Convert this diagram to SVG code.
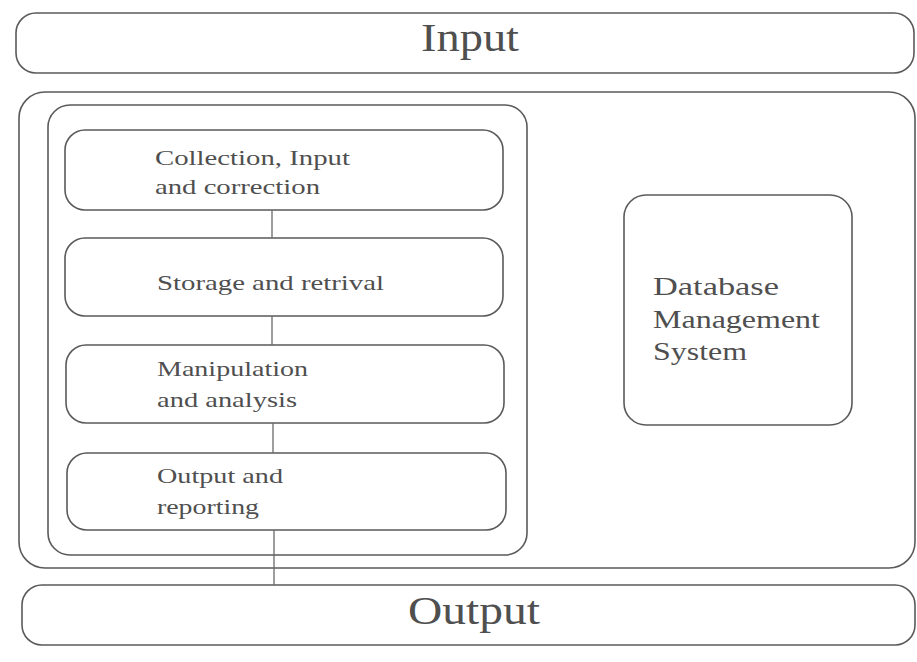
<svg xmlns="http://www.w3.org/2000/svg" width="917" height="662" viewBox="0 0 917 662">
  <style>
    .box { fill: none; stroke: #5a5a5a; stroke-width: 1.6; }
    .link { stroke: #6a6a6a; stroke-width: 1.3; fill: none; }
    .t { font-family: "Liberation Serif", "Times New Roman", serif; fill: #4f4f4f; }
    .big { font-size: 40px; }
    .mid { font-size: 22px; }
    .db { font-size: 26px; }
  </style>
  <rect width="917" height="662" fill="#ffffff"/>

  <g id="input">
    <rect class="box" x="16" y="13" width="898" height="60" rx="20"/>
    <text class="t big" x="421" y="51" textLength="98" lengthAdjust="spacingAndGlyphs">Input</text>
  </g>

  <g id="gis-frame">
    <rect class="box" x="19" y="92" width="896" height="476" rx="26"/>
  </g>

  <g id="process-frame">
    <rect class="box" x="48" y="105" width="479" height="450" rx="22"/>
  </g>

  <g id="collection">
    <rect class="box" x="65" y="130" width="438" height="80" rx="20"/>
    <text class="t mid" x="155" y="165" textLength="195" lengthAdjust="spacingAndGlyphs">Collection, Input</text>
    <text class="t mid" x="155" y="194" textLength="165" lengthAdjust="spacingAndGlyphs">and correction</text>
  </g>

  <g id="storage">
    <rect class="box" x="65" y="238" width="438" height="78" rx="20"/>
    <text class="t mid" x="157" y="290" textLength="227" lengthAdjust="spacingAndGlyphs">Storage and retrival</text>
  </g>

  <g id="manipulation">
    <rect class="box" x="66" y="345" width="438" height="78" rx="20"/>
    <text class="t mid" x="157" y="376" textLength="151" lengthAdjust="spacingAndGlyphs">Manipulation</text>
    <text class="t mid" x="157" y="407" textLength="140" lengthAdjust="spacingAndGlyphs">and analysis</text>
  </g>

  <g id="reporting">
    <rect class="box" x="67" y="453" width="439" height="77" rx="20"/>
    <text class="t mid" x="157" y="483" textLength="126" lengthAdjust="spacingAndGlyphs">Output and</text>
    <text class="t mid" x="157" y="514" textLength="102" lengthAdjust="spacingAndGlyphs">reporting</text>
  </g>

  <g id="dbms">
    <rect class="box" x="624" y="195" width="228" height="230" rx="22"/>
    <text class="t db" x="653" y="295" textLength="126" lengthAdjust="spacingAndGlyphs">Database</text>
    <text class="t db" x="653" y="328" textLength="167" lengthAdjust="spacingAndGlyphs">Management</text>
    <text class="t db" x="653" y="360" textLength="94" lengthAdjust="spacingAndGlyphs">System</text>
  </g>

  <g id="output">
    <rect class="box" x="22" y="585" width="893" height="60" rx="20"/>
    <text class="t big" x="408" y="624" textLength="132" lengthAdjust="spacingAndGlyphs">Output</text>
  </g>

  <g id="connectors">
    <line class="link" x1="272" y1="210" x2="272" y2="238"/>
    <line class="link" x1="272" y1="316" x2="272" y2="345"/>
    <line class="link" x1="273" y1="423" x2="273" y2="453"/>
    <line class="link" x1="274" y1="530" x2="274" y2="585"/>
  </g>
</svg>
